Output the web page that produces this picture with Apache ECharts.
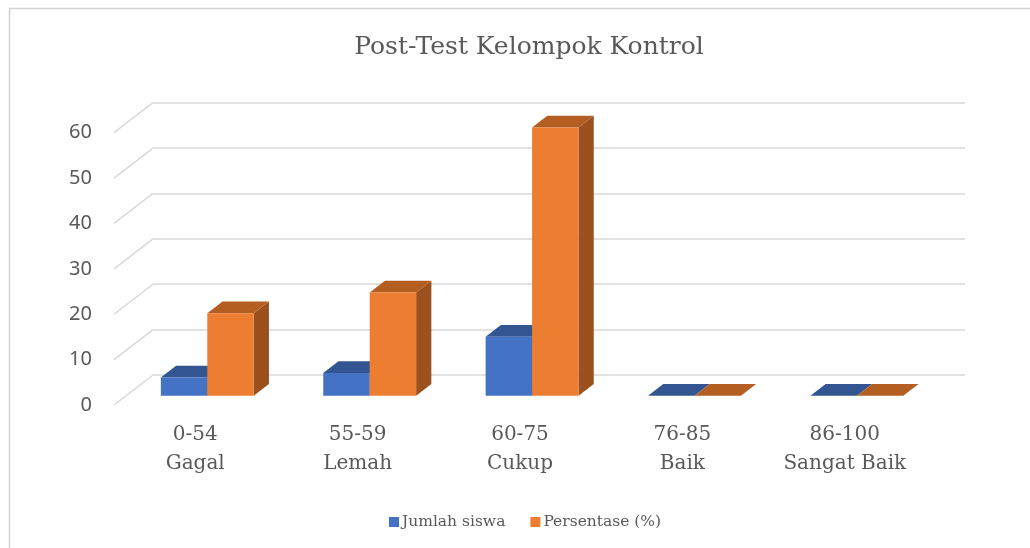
<!DOCTYPE html>
<html>
<head>
<meta charset="utf-8">
<script src="https://cdn.jsdelivr.net/npm/echarts@6/dist/echarts.min.js"></script>
<style>
  html, body { margin: 0; padding: 0; background: #fff; }
  #chart { width: 1030px; height: 548px; }
</style>
</head>
<body>
<div id="chart"></div>
<script>
  // data
  const categories = ['0-54\nGagal', '55-59\nLemah', '60-75\nCukup', '76-85\nBaik', '86-100\nSangat Baik'];
  const jumlahSiswa = [4, 5, 13, 0, 0];
  const persentase = [18.18, 22.73, 59.09, 0, 0];
  const yTicks = [0, 10, 20, 30, 40, 50, 60];
  const seriesNames = ['Jumlah siswa', 'Persentase (%)'];

  // colours: front / top / side
  const blue = ['#4472c4', '#335693', '#2f528f'];
  const orange = ['#ed7d31', '#b55e22', '#9c501e'];

  // back wall of the 3d box, and how deep the floor is
  const back = { left: 153, right: 65, top: 102.7, bottom: 173 };
  const depth = [-39, 30];
  const barFront = 0.69;   // bar front face, as a share of the floor depth
  const barDepth = 0.39;

  function plane(f) {
    return {
      left: back.left + depth[0] * f,
      right: back.right - depth[0] * f,
      top: back.top + depth[1] * f,
      bottom: back.bottom - depth[1] * f
    };
  }

  const chart = echarts.init(document.getElementById('chart'));

  const dOff = [-depth[0] * barDepth, -depth[1] * barDepth];

  function barItem(colors, side) {
    return function (params, api) {
      const i = api.value(0);
      const v = api.value(1);
      const top = api.coord([i, v]);
      const base = api.coord([i, 0]);
      const w = api.size([1, 0])[0] * 0.286;
      const x0 = side < 0 ? top[0] - w : top[0];
      const x1 = x0 + w;
      const y0 = top[1], y1 = base[1];
      const dx = dOff[0], dy = dOff[1];
      return {
        type: 'group',
        children: [
          { type: 'polygon', shape: { points: [[x1, y0], [x1 + dx, y0 + dy], [x1 + dx, y1 + dy], [x1, y1]] },
            style: { fill: colors[2] } },
          { type: 'polygon', shape: { points: [[x0, y0], [x1, y0], [x1 + dx, y0 + dy], [x0 + dx, y0 + dy]] },
            style: { fill: colors[1] } },
          { type: 'rect', shape: { x: x0, y: y0, width: w, height: y1 - y0 },
            style: { fill: colors[0] } }
        ]
      };
    };
  }

  const axisOff = {
    axisLine: { show: false }, axisTick: { show: false }, axisLabel: { show: false }, splitLine: { show: false }
  };

  const option = {
    animation: false,
    backgroundColor: '#fff',
    title: {
      text: 'Post-Test Kelompok Kontrol',
      left: 524, top: 30, textAlign: 'center',
      textStyle: { fontFamily: 'DejaVu Serif', fontSize: 25, fontWeight: 'normal', color: '#595959' }
    },
    legend: {
      data: seriesNames,
      left: 384, top: 509,
      itemWidth: 10, itemHeight: 10, itemGap: 25,
      icon: 'rect',
      textStyle: { fontFamily: 'DejaVu Serif', fontSize: 15.5, color: '#595959', padding: [0, 0, 0, -2] }
    },
    graphic: [{
      type: 'rect', shape: { x: 9.5, y: 8.5, width: 1100, height: 600 },
      style: { fill: null, stroke: '#d4d4d4', lineWidth: 1.5 }, silent: true
    }],
    grid: [
      Object.assign({}, plane(0)),
      Object.assign({}, plane(1)),
      Object.assign({}, plane(barFront))
    ],
    xAxis: [
      Object.assign({ type: 'value', min: 0, max: 1, gridIndex: 0 }, axisOff),
      {
        type: 'category', data: categories, gridIndex: 1,
        axisLine: { show: false }, axisTick: { show: false }, splitLine: { show: false },
        axisLabel: { margin: 15, fontFamily: 'DejaVu Serif', fontSize: 20, lineHeight: 29, color: '#595959' }
      },
      Object.assign({ type: 'category', data: categories, gridIndex: 2 }, axisOff)
    ],
    yAxis: [
      {
        type: 'value', min: 0, max: 60, interval: 10, gridIndex: 0,
        axisLine: { show: false }, axisTick: { show: false }, axisLabel: { show: false },
        splitLine: { lineStyle: { color: '#d9d9d9', width: 1.5 } }
      },
      {
        type: 'value', min: 0, max: 60, interval: 10, gridIndex: 1,
        axisLine: { show: false }, axisTick: { show: false }, splitLine: { show: false },
        axisLabel: { margin: 22, fontFamily: 'Noto Sans', fontSize: 20, color: '#595959' }
      },
      Object.assign({ type: 'value', min: 0, max: 60, gridIndex: 2 }, axisOff)
    ],
    series: [
      {
        // side wall lines going from the back wall to the front edge
        type: 'custom', xAxisIndex: 0, yAxisIndex: 0, silent: true,
        data: yTicks.map(v => [0, v]),
        renderItem: function (params, api) {
          const p = api.coord([0, api.value(1)]);
          return {
            type: 'line',
            shape: { x1: p[0], y1: p[1], x2: p[0] + depth[0], y2: p[1] + depth[1] },
            style: { stroke: '#d9d9d9', lineWidth: 1.5 }
          };
        }
      },
      {
        name: seriesNames[0], type: 'custom', xAxisIndex: 2, yAxisIndex: 2,
        itemStyle: { color: blue[0] },
        data: jumlahSiswa.map((v, i) => [i, v]),
        renderItem: barItem(blue, -1)
      },
      {
        name: seriesNames[1], type: 'custom', xAxisIndex: 2, yAxisIndex: 2,
        itemStyle: { color: orange[0] },
        data: persentase.map((v, i) => [i, v]),
        renderItem: barItem(orange, 1)
      }
    ]
  };

  chart.setOption(option);
</script>
</body>
</html>
